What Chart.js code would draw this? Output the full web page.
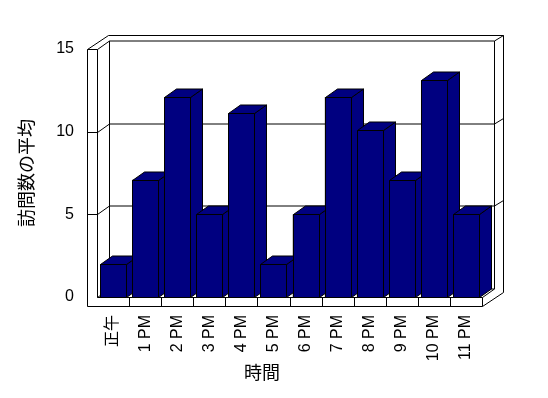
<!DOCTYPE html>
<html lang="ja">
<head>
<meta charset="UTF-8">
<title>訪問数の平均</title>
<script src="https://cdn.jsdelivr.net/npm/chart.js@4"></script>
<style>
    body {
        margin: 0;
        background: #fff;
    }
    #wrap {
        width: 548px;
        height: 398px;
    }
</style>
</head>
<body>
<div id="wrap"><canvas id="chart" width="548" height="398"></canvas></div>
<script>
    // data
    const hours = ['正午', '1 PM', '2 PM', '3 PM', '4 PM', '5 PM', '6 PM', '7 PM', '8 PM', '9 PM', '10 PM', '11 PM'];
    const visits = [2, 7.1, 12.1, 5, 11.1, 2, 5, 12.1, 10.1, 7.1, 13.1, 5];
    const yTicks = [0, 5, 10, 15];

    const FONT = "'Liberation Sans', 'Noto Sans CJK JP', sans-serif";
    const BAR = '#000080';
    const depth = { dx: 12, dy: -8.5 };   // front plane -> back wall
    const outer = { dx: 21, dy: -14 };    // front plane -> back of wall slab
    const WALL = 10, FLOOR = 9;

    Chart.defaults.color = '#000';
    Chart.defaults.font.family = FONT;

    function px(v) { return Math.round(v) + 0.5; }

    function poly(ctx, pts, fill) {
        ctx.beginPath();
        ctx.moveTo(pts[0][0], pts[0][1]);
        for (let i = 1; i < pts.length; i++) ctx.lineTo(pts[i][0], pts[i][1]);
        if (fill) {
            ctx.closePath();
            ctx.fill();
        }
        ctx.stroke();
    }

    // walls, floor and grid of the 3D box
    const box3d = {
        id: 'box3d',
        beforeDatasetsDraw(chart) {
            const { ctx, chartArea: a, scales } = chart;
            const L = px(a.left), R = px(a.right), T = px(a.top), B = px(a.bottom);
            const X0 = L - WALL, FB = B + FLOOR;
            ctx.save();
            ctx.lineWidth = 1;
            ctx.strokeStyle = '#000';
            ctx.fillStyle = '#fff';

            poly(ctx, [[X0, FB], [X0, T], [X0 + outer.dx, T + outer.dy], [R + outer.dx, T + outer.dy],
                       [R + outer.dx, FB + outer.dy], [R, FB]], true);

            poly(ctx, [[L, T], [L, B]]);
            poly(ctx, [[L + depth.dx, T + depth.dy], [L + depth.dx, B + depth.dy]]);
            poly(ctx, [[R + depth.dx, T + depth.dy], [R + depth.dx, B + depth.dy]]);
            poly(ctx, [[L, B], [R, B], [R + depth.dx, B + depth.dy]]);
            poly(ctx, [[L, B], [L + depth.dx, B + depth.dy], [R + depth.dx, B + depth.dy]]);
            poly(ctx, [[R, B], [R, FB]]);

            // category separators on the floor edge
            const xs = scales.x;
            for (let i = 0; i < hours.length - 1; i++) {
                const bx = px((xs.getPixelForTick(i) + xs.getPixelForTick(i + 1)) / 2);
                poly(ctx, [[bx, B], [bx, FB]]);
            }

            // grid lines on walls
            yTicks.forEach(v => {
                if (v === 0) return;
                const py = px(scales.y.getPixelForValue(v));
                poly(ctx, [[X0, py], [L, py]]);
                poly(ctx, [[L, py], [L + depth.dx, py + depth.dy], [R + depth.dx, py + depth.dy],
                           [R + outer.dx, py + outer.dy]]);
            });
            ctx.restore();
        },
        afterDatasetsDraw(chart) {
            const { ctx } = chart;
            const meta = chart.getDatasetMeta(0);
            ctx.save();
            ctx.lineWidth = 1;
            ctx.strokeStyle = '#000';
            ctx.fillStyle = BAR;
            meta.data.forEach(bar => {
                const p = bar.getProps(['x', 'y', 'base', 'width'], true);
                const x0 = px(p.x - p.width / 2), x1 = px(p.x + p.width / 2);
                const top = px(p.y), base = px(p.base);
                poly(ctx, [[x1, base], [x1 + depth.dx, base + depth.dy], [x1 + depth.dx, top + depth.dy], [x1, top]], true);
                poly(ctx, [[x0, top], [x0 + depth.dx, top + depth.dy], [x1 + depth.dx, top + depth.dy], [x1, top]], true);
                poly(ctx, [[x0, base], [x0, top], [x1, top], [x1, base]], true);
            });
            ctx.restore();
        }
    };

    new Chart(document.getElementById('chart'), {
        type: 'bar',
        data: {
            labels: hours,
            datasets: [{
                label: '訪問数の平均',
                data: visits,
                backgroundColor: BAR,
                borderColor: '#000',
                borderWidth: 1,
                barPercentage: 0.81,
                categoryPercentage: 1
            }]
        },
        options: {
            responsive: false,
            animation: false,
            events: [],
            layout: { padding: { left: 42, top: 49, right: 66, bottom: 0 } },
            plugins: {
                legend: { display: false },
                tooltip: { enabled: false },
                title: {
                    display: true,
                    text: '時間',
                    position: 'bottom',
                    color: '#000',
                    font: { size: 18, weight: 'normal', family: FONT },
                    padding: { top: 0, bottom: 13.2 }
                }
            },
            scales: {
                x: {
                    grid: { display: false, drawTicks: false },
                    border: { display: false },
                    ticks: {
                        autoSkip: false,
                        minRotation: 90,
                        maxRotation: 90,
                        padding: 18,
                        font: { size: 16 }
                    },
                    afterFit(scale) { scale.height = 66.2; }
                },
                y: {
                    min: 0,
                    max: 15,
                    afterBuildTicks(scale) { scale.ticks = yTicks.map(v => ({ value: v })); },
                    grid: { display: false, drawTicks: false },
                    border: { display: false },
                    ticks: { padding: 23, font: { size: 16 } },
                    title: {
                        display: true,
                        text: '訪問数の平均',
                        font: { size: 18 },
                        padding: { top: -24.3, bottom: 0 }
                    },
                    afterFit(scale) { scale.width = 55; }
                }
            }
        },
        plugins: [box3d]
    });
</script>
</body>
</html>
